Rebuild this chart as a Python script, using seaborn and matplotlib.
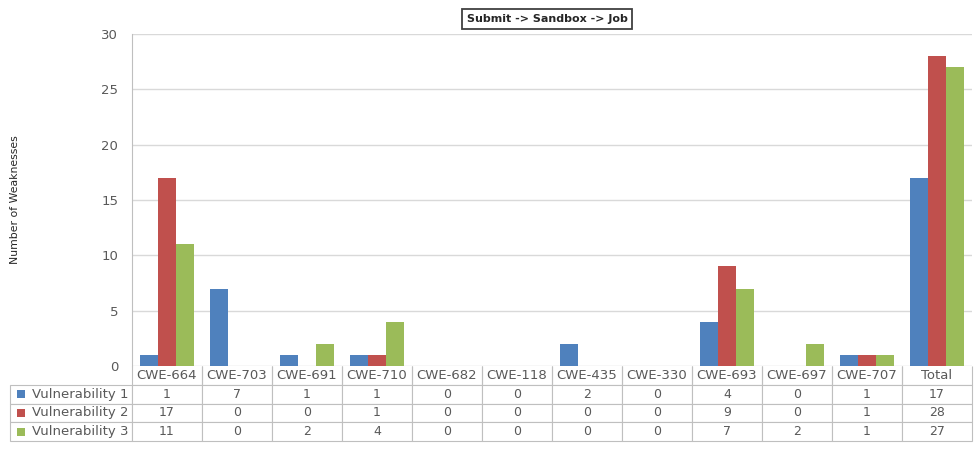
import matplotlib
matplotlib.use("Agg")
import matplotlib.pyplot as plt
from matplotlib.patches import Rectangle
import seaborn as sns
import pandas as pd

categories = ["CWE-664", "CWE-703", "CWE-691", "CWE-710", "CWE-682", "CWE-118",
              "CWE-435", "CWE-330", "CWE-693", "CWE-697", "CWE-707", "Total"]
series_names = ["Vulnerability 1", "Vulnerability 2", "Vulnerability 3"]
vuln1 = [1, 7, 1, 1, 0, 0, 2, 0, 4, 0, 1, 17]
vuln2 = [17, 0, 0, 1, 0, 0, 0, 0, 9, 0, 1, 28]
vuln3 = [11, 0, 2, 4, 0, 0, 0, 0, 7, 2, 1, 27]
colors = ["#4F81BD", "#C0504D", "#9BBB59"]
yticks = [0, 5, 10, 15, 20, 25, 30]
title = "Submit -> Sandbox -> Job"
ylabel = "Number of Weaknesses"

sns.set_style("white")
plt.rcParams['font.family'] = ['DejaVu Sans']

rows = []
for name, vals in zip(series_names, [vuln1, vuln2, vuln3]):
    for c, v in zip(categories, vals):
        rows.append({"Category": c, "Series": name, "Value": v})
df = pd.DataFrame(rows)

fig = plt.figure(figsize=(9.74, 4.5), dpi=100)
L, R, T, B = 132, 972, 34, 366
W, H = 974, 450
ax = fig.add_axes([L / W, 1 - B / H, (R - L) / W, (B - T) / H])

sns.barplot(data=df, x="Category", y="Value", hue="Series", order=categories,
            hue_order=series_names, palette=colors, width=0.78, saturation=1,
            ax=ax, legend=False, edgecolor="none", linewidth=0)

axw = R - L
axh = B - T

ax.set_ylim(0, 30)
ax.set_xlim(-0.5, len(categories) - 0.5)
ax.set_yticks(yticks)
ax.set_yticklabels([str(t) for t in yticks], color="#595959", fontsize=9.5)
ax.tick_params(axis="y", length=4, color="#D0D0D0", pad=6)
ax.set_xticks([])
ax.set_xlabel("")
ax.set_ylabel(ylabel, fontsize=7.8, color="#262626")
ax.yaxis.set_label_coords((15 - L) / axw, 0.5)
ax.yaxis.label.set_va("center")
ax.yaxis.grid(True, color="#D9D9D9", linewidth=1)
ax.set_axisbelow(True)
for s in ["top", "right", "bottom"]:
    ax.spines[s].set_visible(False)
ax.spines["left"].set_color("#BFBFBF")

ax.set_title(title, fontsize=8, fontweight="bold", color="#262626", pad=9,
             x=(547 - L) / axw,
             bbox=dict(boxstyle="square,pad=0.45", facecolor="white",
                       edgecolor="#404040", linewidth=1.3))

# data table
label_w = 122
tbl_bottom = 441
cell_text = [[name] + [str(v) for v in vals]
             for name, vals in zip(series_names, [vuln1, vuln2, vuln3])]
col_labels = [""] + categories
col_widths = [label_w / axw] + [1.0 / len(categories)] * len(categories)
tbl = ax.table(cellText=cell_text, colLabels=col_labels, colWidths=col_widths,
               cellLoc="center",
               bbox=[-label_w / axw, -(tbl_bottom - B) / axh,
                     1 + label_w / axw, (tbl_bottom - B) / axh])
tbl.auto_set_font_size(False)
for (r, c), cell in tbl.get_celld().items():
    cell.set_edgecolor("#BFBFBF")
    cell.set_linewidth(0.8)
    txt = cell.get_text()
    txt.set_color("#595959")
    if r == 0:
        txt.set_fontsize(9.5)
        if c == 0:
            cell.visible_edges = ""
        else:
            cell.visible_edges = "BLR"
    else:
        txt.set_fontsize(9)
        if c == 0:
            txt.set_ha("right")
            txt.set_fontsize(9.5)
            cell.PAD = 0.03

# legend keys in row labels
row_h = (tbl_bottom - B) / 4
for i, col in enumerate(colors):
    yc = B + row_h * (i + 1) + row_h / 2
    ax.add_patch(Rectangle(((17 - L) / axw, -(yc + 4 - B) / axh), 8 / axw, 8 / axh,
                           transform=ax.transAxes, clip_on=False,
                           facecolor=col, edgecolor="none"))

fig.savefig("out.png", dpi=100)
